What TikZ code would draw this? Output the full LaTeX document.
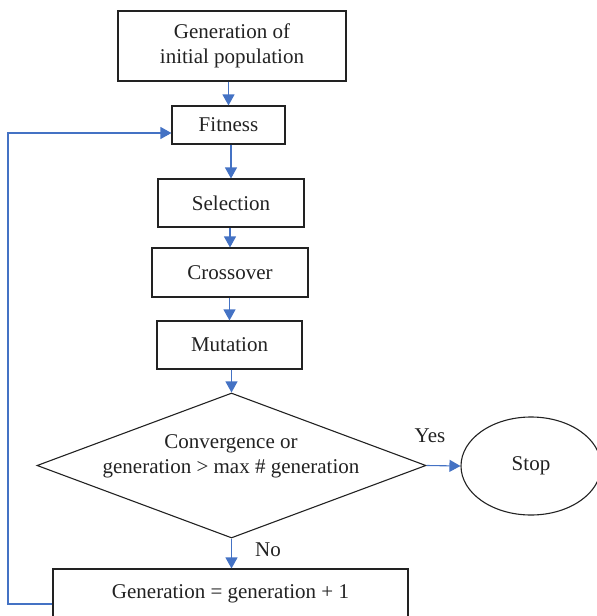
\documentclass[tikz,border=0pt]{standalone}
\usepackage{fontspec}
\setmainfont{Liberation Serif}
\newfontfamily\diagfont{Liberation Serif}
\usetikzlibrary{shapes.geometric,arrows.meta}
\definecolor{flowblue}{HTML}{4472C4}
\definecolor{boxline}{HTML}{222222}
\begin{document}
\begin{tikzpicture}[x=1pt,y=-1pt,
  every node/.style={font=\diagfont\fontsize{21}{25}\selectfont,text=boxline},
  box/.style={draw=boxline,line width=1.1pt,inner sep=0pt,align=center},
  arr/.style={draw=flowblue,line width=1.1pt,-{Triangle[length=11pt,width=12pt]}}]
\useasboundingbox (0,0) rectangle (597,616);
\clip (0,0) rectangle (597,616);
\node[box,minimum width=228pt,minimum height=70pt] (init) at (232,46) {Generation of\\initial population};
\node[box,minimum width=113pt,minimum height=38pt] (fit) at (228.5,125) {Fitness};
\node[box,minimum width=146pt,minimum height=48pt] (sel) at (231,203) {Selection};
\node[box,minimum width=156pt,minimum height=49pt] (cross) at (230,272.5) {Crossover};
\node[box,minimum width=145pt,minimum height=48pt] (mut) at (229.5,345) {Mutation};
\node[draw=boxline,line width=1.1pt,shape=diamond,inner sep=0pt,minimum width=389pt,minimum height=145pt] (dec) at (231.5,465.5) {};
\node[align=center] (dectext) at (231,456.5) {Convergence or\\generation > max \# generation};
\node[draw=boxline,line width=1.1pt,shape=ellipse,inner sep=0pt,minimum width=140pt,minimum height=98pt] (stop) at (531,466) {Stop};
\node[box,minimum width=355pt,minimum height=50pt] (gen) at (230.5,594) {Generation = generation + 1};
\node (yes) at (430,436) {Yes};
\node (no) at (268,550) {No};
\coordinate (fitin) at ([yshift=-8pt]fit.west);
\coordinate (genout) at ([yshift=-10pt]gen.west);
\coordinate (c1) at (8,0);
\draw[arr] (init.south -| fit.north) -- (fit.north);
\draw[arr] (fit.south -| sel.north) -- (sel.north);
\draw[arr] (sel.south -| cross.north) -- (cross.north);
\draw[arr] (cross.south -| mut.north) -- (mut.north);
\draw[arr] (mut.south -| dec.north) -- (dec.north);
\draw[arr] (dec.east) -- (stop.west);
\draw[arr] (dec.south) -- (dec.south |- gen.north);
\draw[arr] (genout) -- (genout -| c1) -- (fitin -| c1) -- (fitin);
\end{tikzpicture}
\end{document}
